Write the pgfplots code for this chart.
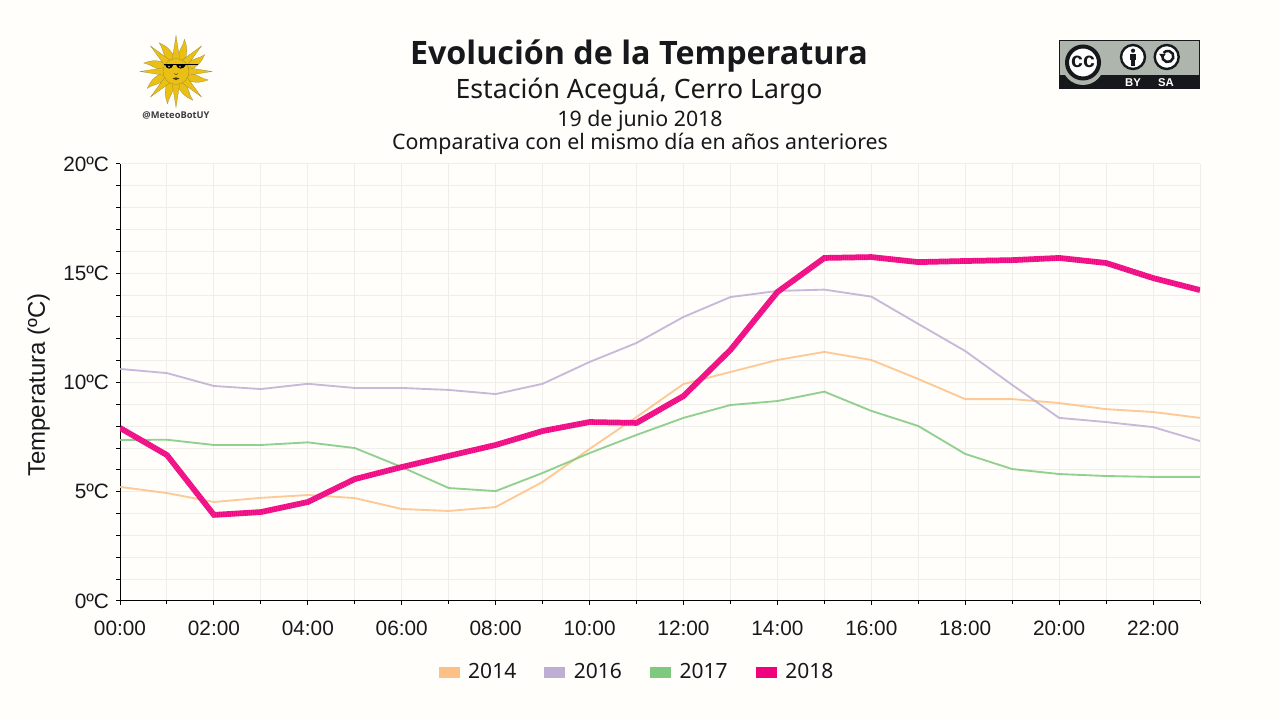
\documentclass[border=0pt]{standalone}
\usepackage{fontspec}
\setmainfont{Liberation Sans}
\newfontfamily\noto{Noto Sans}
\newfontfamily\opensans{Open Sans}
\newcommand\notob{\opensans\bfseries}
\usepackage{pgfplots}
\pgfplotsset{compat=1.18}
\usepackage{pgfplotstable}
\definecolor{bg}{HTML}{FFFEFA}
\definecolor{ink}{HTML}{16181C}
\definecolor{gridc}{HTML}{EFEEE8}
\definecolor{c14}{HTML}{FDC086}
\definecolor{c16}{HTML}{BEAED4}
\definecolor{c17}{HTML}{7FC97F}
\definecolor{c18}{HTML}{F0027F}
\definecolor{sun}{HTML}{EAC015}
\definecolor{sunedge}{HTML}{8C8040}
\definecolor{ccgray}{HTML}{ADB5AC}
\pgfplotstableread{
h y14 y16 y17 y18
0 5.22 10.62 7.37 7.92
1 4.94 10.43 7.38 6.68
2 4.53 9.84 7.14 3.94
3 4.72 9.70 7.14 4.07
4 4.85 9.94 7.26 4.53
5 4.71 9.75 7.00 5.58
6 4.21 9.75 6.13 6.13
7 4.12 9.66 5.17 6.64
8 4.30 9.47 5.03 7.14
9 5.45 9.94 5.86 7.78
10 6.96 10.94 6.77 8.19
11 8.42 11.81 7.60 8.15
12 9.93 13.00 8.38 9.38
13 10.48 13.91 8.97 11.49
14 11.03 14.19 9.15 14.14
15 11.40 14.25 9.58 15.70
16 11.03 13.93 8.70 15.74
17 10.16 12.68 8.01 15.51
18 9.24 11.44 6.73 15.56
19 9.24 9.89 6.04 15.60
20 9.06 8.38 5.81 15.70
21 8.78 8.19 5.72 15.47
22 8.65 7.96 5.68 14.78
23 8.38 7.32 5.68 14.23
}\temps
\begin{document}
\begin{tikzpicture}
\fill[bg] (0,0) rectangle (960pt,540pt);
\begin{axis}[
  at={(90pt,89.25pt)},anchor=south west,
  scale only axis,width=810pt,height=327.75pt,
  xmin=0,xmax=23,ymin=0,ymax=20,
  axis lines=left,axis line style={-,black,line width=0.75pt},
  tick align=outside,
  tick style={black,line width=0.75pt},
  major tick length=3pt,minor tick length=2pt,
  xtick={0,2,...,22},
  xticklabels={00:00,02:00,04:00,06:00,08:00,10:00,12:00,14:00,16:00,18:00,20:00,22:00},
  minor xtick={1,3,...,23},
  ytick={0,1,...,20},
  yticklabels={0ºC,,,,,5ºC,,,,,10ºC,,,,,15ºC,,,,,20ºC},
  grid=both,
  major grid style={gridc,line width=0.75pt},
  minor grid style={gridc,line width=0.75pt},
  tick label style={font=\fontsize{15.6pt}{18pt}\selectfont,text=ink},
  xticklabel style={yshift=-8.5pt},
  yticklabel style={xshift=-1.7pt},
  ylabel={Temperatura (ºC)},
  ylabel style={font=\fontsize{18pt}{20pt}\selectfont,text=ink},
  every axis y label/.append style={at={(rel axis cs:0,0.5)},anchor=center,yshift=61pt,xshift=-2pt},
  legend columns=4,
  legend style={at={(0.4790,-0.163)},anchor=center,draw=none,fill=none,
    font=\noto\fontsize{15.75pt}{18pt}\selectfont,text=ink,
    /tikz/every even column/.append style={column sep=19pt},
    /tikz/every odd column/.append style={column sep=4.5pt},
    inner sep=0pt},
  legend image code/.code={\fill[#1,draw=none,opacity=1] (0pt,-4pt) rectangle (15.75pt,4pt);},
]
\addplot[c14,line width=1.4pt,opacity=.85] table[x=h,y=y14]{\temps};
\addlegendentry{2014}
\addplot[c16,line width=1.4pt,opacity=.85] table[x=h,y=y16]{\temps};
\addlegendentry{2016}
\addplot[c17,line width=1.4pt,opacity=.85] table[x=h,y=y17]{\temps};
\addlegendentry{2017}
\addplot[c18,line width=4.3pt] table[x=h,y=y18]{\temps};
\addlegendentry{2018}
\addplot[forget plot,white,opacity=.13,line width=4.3pt,dash pattern=on 0.8pt off 0.8pt] table[x=h,y=y18]{\temps};
\end{axis}
\begin{scope}[x=0.75pt,y=-0.75pt,yshift=540pt]
\node[text=ink] at (639,56) {\notob\fontsize{24.2pt}{28pt}\selectfont Evolución de la Temperatura};
\node[text=ink] at (639,91) {\noto\fontsize{20pt}{24pt}\selectfont Estación Aceguá, Cerro Largo};
\node[text=ink] at (640,121) {\noto\fontsize{16pt}{18pt}\selectfont 19 de junio 2018};
\node[text=ink] at (640,144) {\noto\fontsize{16pt}{18pt}\selectfont Comparativa con el mismo día en años anteriores};
% sun logo
\begin{scope}[shift={(176,71.5)}]
\foreach \a in {0,45,...,315}{
  \fill[sun,draw=sunedge,line width=0.15pt,rotate=\a+22.5] (-3.5,-12) .. controls (-6,-20) and (-3,-26) .. (-4.5,-33) .. controls (1,-27) and (5,-20) .. (3.5,-12) -- cycle;
}
\foreach \a in {0,45,...,315}{
  \fill[sun,draw=sunedge,line width=0.15pt,rotate=\a] (-3.8,-12) -- (0,-36) -- (3.8,-12) -- cycle;
}
\fill[sun,draw=sunedge,line width=0.15pt] (0,0) circle (13);
\fill[black] (-12,-7) rectangle (22,-6);
\fill[black] (-11,-7) .. controls (-10,-1.5) and (-4,-1.5) .. (-2.5,-7) -- cycle;
\fill[black] (0,-7) .. controls (1,-1.5) and (8,-1.5) .. (10,-7) -- cycle;
\fill[white!70!black] (-8,-5.5) -- (-6,-5.5) -- (-7,-3.5) -- cycle;
\fill[white!70!black] (3,-5.5) -- (5,-5.5) -- (4,-3.5) -- cycle;
\draw[sunedge!60!black,line width=0.4pt] (-2,2) .. controls (-1,3.5) and (1,3.5) .. (2,2);
\fill[black!70!sun] (-3.5,7) .. controls (-1,5.5) and (1,5.5) .. (3.5,7) .. controls (1,9) and (-1,9) .. (-3.5,7);
\end{scope}
\node[text=ink!85!white] at (176,115) {\notob\fontsize{7pt}{8pt}\selectfont @MeteoBotUY};
% CC badge
\fill[ccgray,draw=ink,line width=0.5pt] (1059.5,40.5) rectangle (1199.5,88.5);
\fill[ink] (1059.5,75) rectangle (1199.5,88.5);
\fill[ccgray] (1083,64) circle (21);
\fill[white,draw=ink,line width=3pt] (1083,62.5) circle (16);
\node[text=ink] at (1083,62) {\bfseries\fontsize{16pt}{16pt}\selectfont cc};
\fill[white,draw=ink,line width=1.8pt] (1133,57) circle (12);
\fill[ink] (1133,50.7) circle (2.1);
\fill[ink] (1129.6,53.7) rectangle (1136.4,60.5);
\fill[ink] (1131.2,60) rectangle (1134.8,66);
\fill[white,draw=ink,line width=1.8pt] (1166.7,57) circle (12);
\draw[ink,line width=1.9pt] (1162.4,55) arc (195:-140:5.6);
\fill[ink] (1159.2,54) -- (1165.7,54) -- (1162.4,58.5) -- cycle;
\node[text=white] at (1133,82.5) {\bfseries\fontsize{8.5pt}{9pt}\selectfont BY};
\node[text=white] at (1166,82.5) {\bfseries\fontsize{8.5pt}{9pt}\selectfont SA};
\end{scope}
\end{tikzpicture}
\end{document}
